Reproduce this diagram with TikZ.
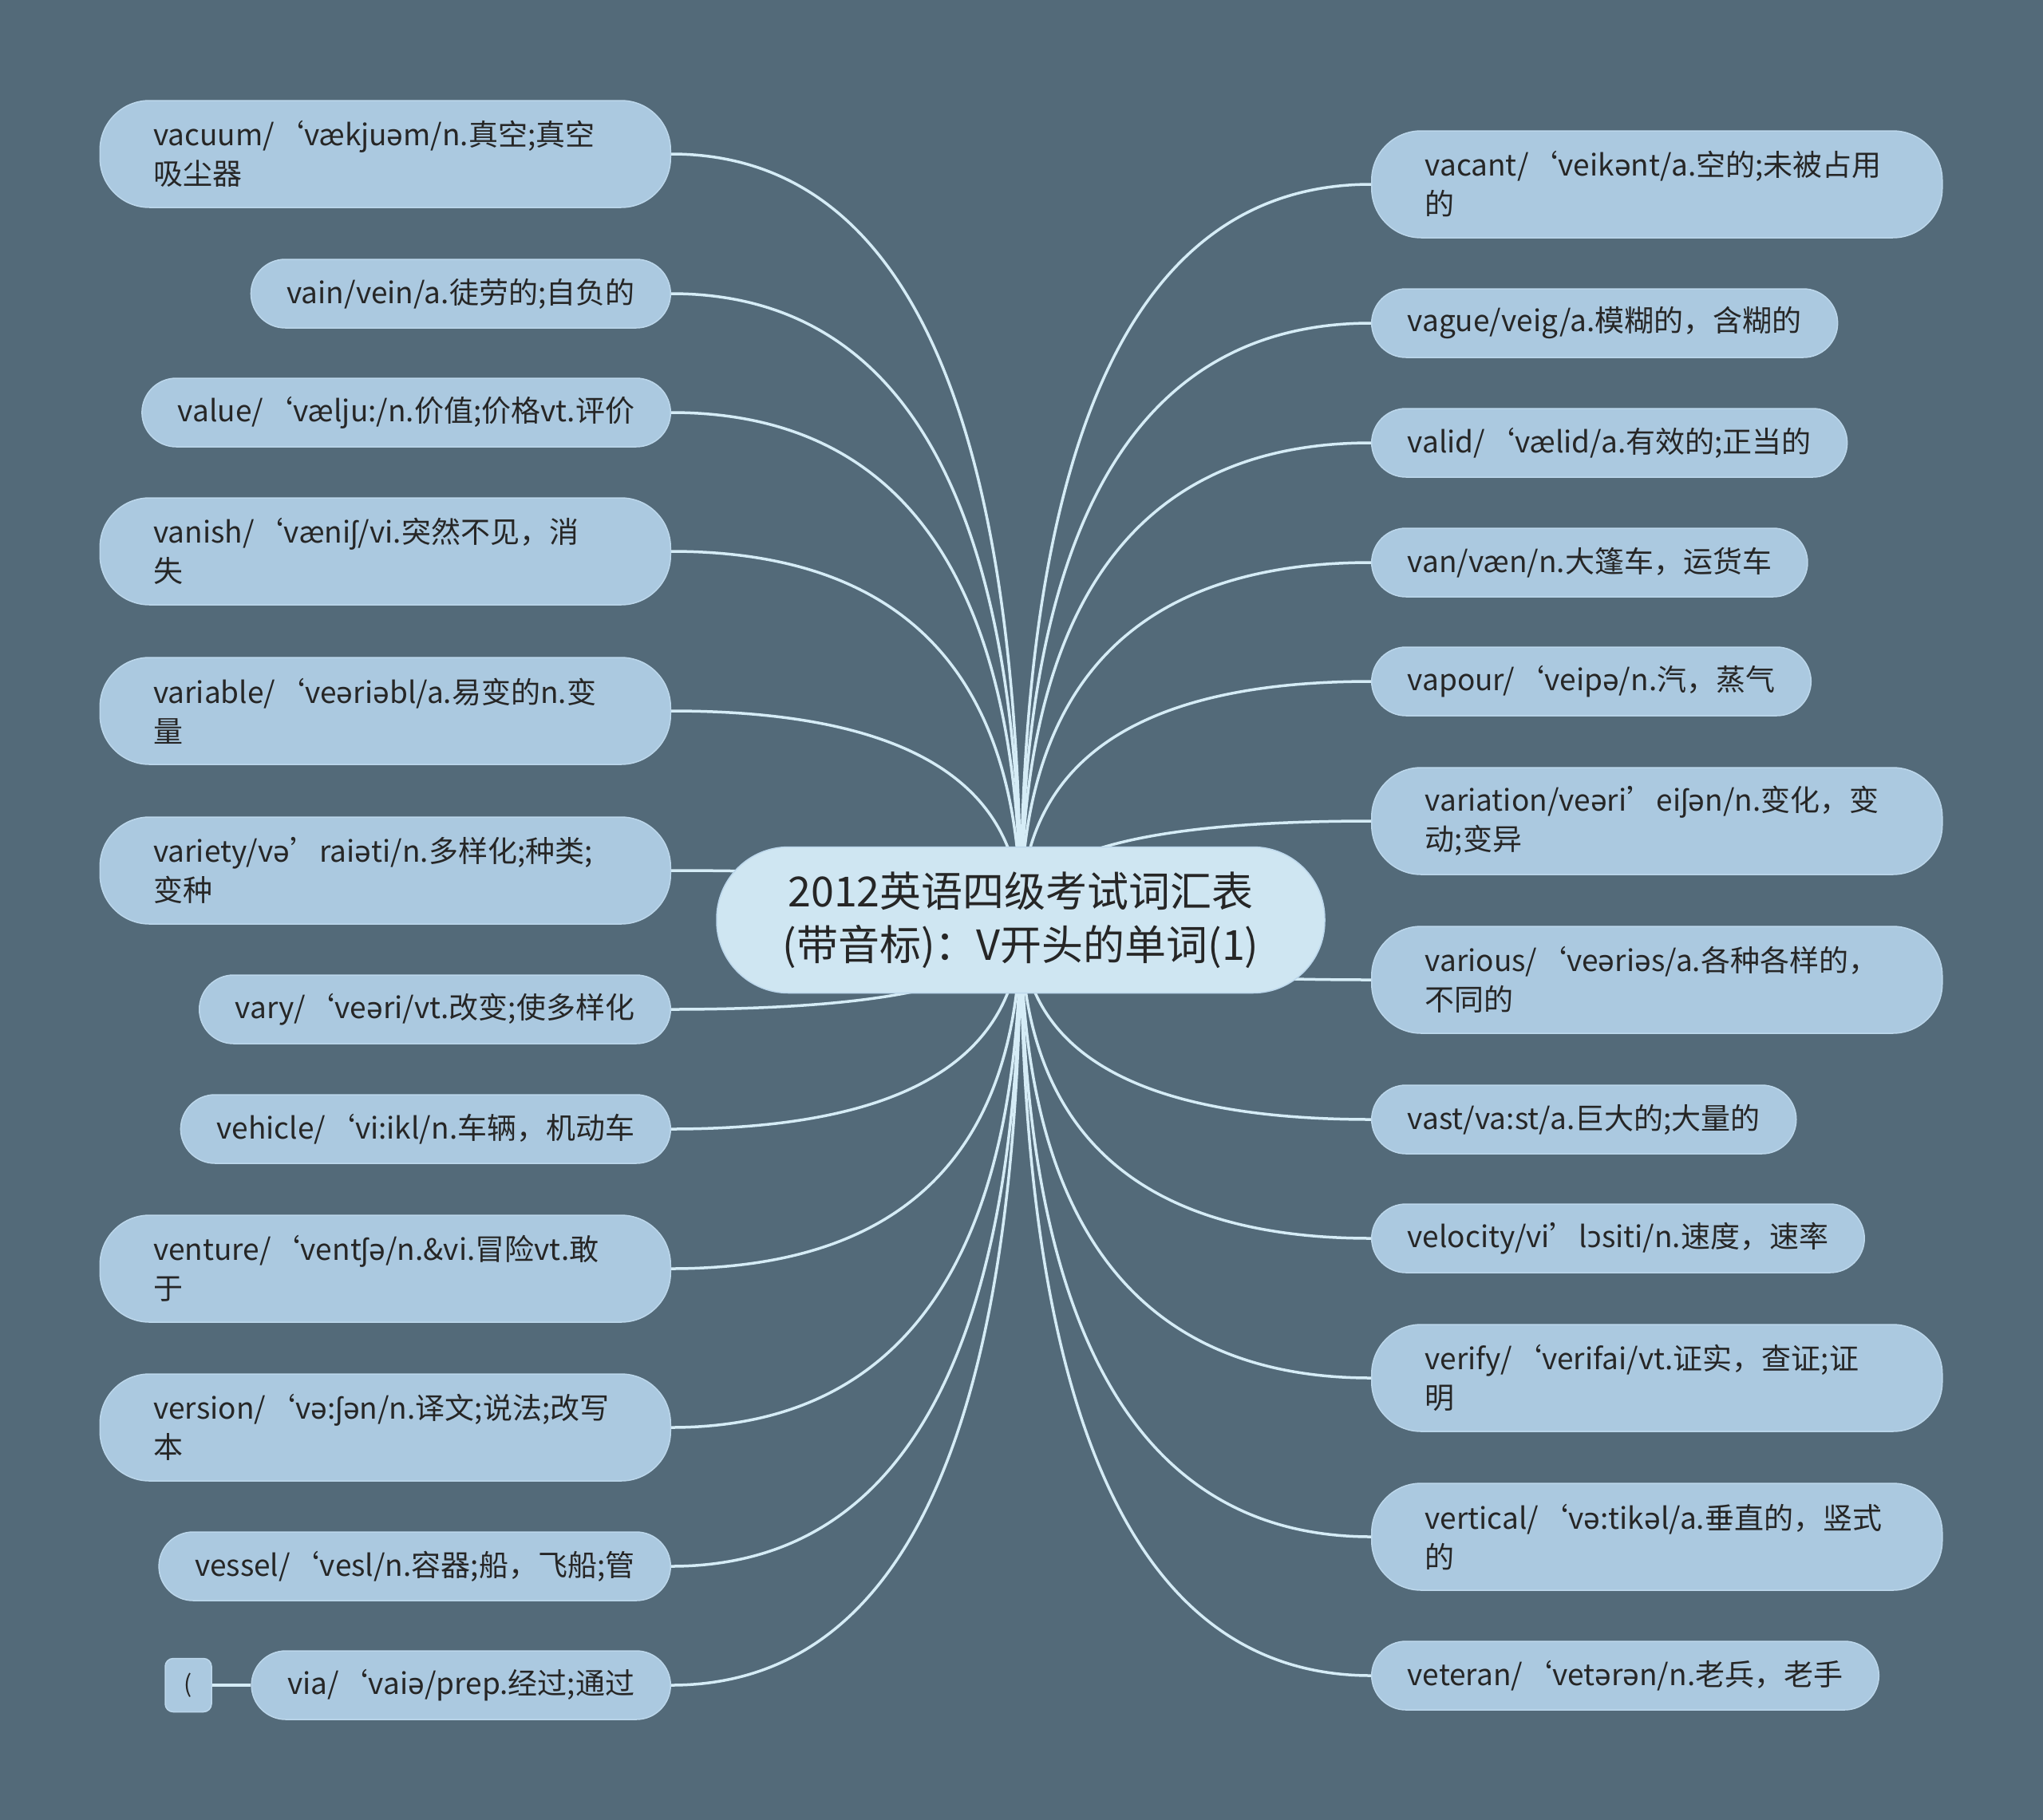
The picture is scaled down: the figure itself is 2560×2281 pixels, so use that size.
\documentclass[tikz,border=0pt]{standalone}
\usepackage{fontspec}
\setmainfont{Noto Sans CJK SC}
\newfontfamily\ipafont{Noto Sans}
\usetikzlibrary{calc,backgrounds}
\definecolor{bgc}{HTML}{536A79}
\definecolor{leafc}{HTML}{ABC9E0}
\definecolor{leafline}{HTML}{BCD7EB}
\definecolor{rootc}{HTML}{CFE6F2}
\definecolor{edgec}{HTML}{D5ECF6}
\definecolor{txtc}{HTML}{262626}
\newcommand\leaffont{\fontsize{37pt}{49pt}\selectfont}
\newcommand\rootfont{\fontsize{52pt}{67pt}\selectfont}
\newcommand\Sc{{\ipafont ə}}
\newcommand\Sh{{\ipafont ʃ}}
\newcommand\Oo{{\ipafont ɔ}}
\newcommand\vlink[2]{\draw[edge] (#1.center) .. controls ($(#1.center)!0.6667!(#1.center|-#2)$) and ($(#2)!0.6667!(#1.center|-#2)$) .. (#2);}
\tikzset{
  leafa/.style={fill=leafc, draw=leafline, line width=1.5pt, text=txtc, font=\leaffont,
    inner xsep=45pt, inner ysep=0pt, minimum height=86pt, rounded corners=43pt},
  leafb/.style={fill=leafc, draw=leafline, line width=1.5pt, text=txtc, font=\leaffont,
    text width=581pt, align=left, inner xsep=67pt, inner ysep=0pt, minimum height=134pt, rounded corners=62pt},
  rootbox/.style={fill=rootc, draw=leafline, line width=1.5pt, text=txtc, font=\rootfont,
    align=center, inner sep=0pt, minimum width=762pt, minimum height=183pt, rounded corners=90pt},
  parenbox/.style={fill=leafc, draw=leafline, line width=1.5pt, text=txtc, font=\fontsize{30pt}{36pt}\selectfont,
    inner sep=0pt, minimum width=58pt, minimum height=67pt, rounded corners=10pt},
  edge/.style={draw=edgec, line width=3.5pt}
}
\begin{document}
\begin{tikzpicture}[x=1pt,y=-1pt]
\useasboundingbox (0,0) rectangle (2560,2281);
% root
\node[rootbox] (root) at (1279,1153) {2012英语四级考试词汇表\\(带音标)：V开头的单词(1)};
% left
\node[leafb, anchor=east] (L1) at (841,193) {vacuum/‘vækju\Sc{}m/n.真空;真空\\吸尘器};
\node[leafa, anchor=east] (L2) at (841,368) {vain/vein/a.徒劳的;自负的};
\node[leafa, anchor=east] (L3) at (841,517) {value/‘vælju:/n.价值;价格vt.评价};
\node[leafb, anchor=east] (L4) at (841,691) {vanish/‘væni\Sh{}/vi.突然不见，消\\失};
\node[leafb, anchor=east] (L5) at (841,891) {variable/‘ve\Sc{}ri\Sc{}bl/a.易变的n.变\\量};
\node[leafb, anchor=east] (L6) at (841,1091) {variety/v\Sc{}’rai\Sc{}ti/n.多样化;种类;\\变种};
\node[leafa, anchor=east] (L7) at (841,1265) {vary/‘ve\Sc{}ri/vt.改变;使多样化};
\node[leafa, anchor=east] (L8) at (841,1415) {vehicle/‘vi:ikl/n.车辆，机动车};
\node[leafb, anchor=east] (L9) at (841,1590) {venture/‘vent\Sh\Sc{}/n.\&vi.冒险vt.敢\\于};
\node[leafb, anchor=east] (L10) at (841,1789) {version/‘v\Sc{}:\Sh\Sc{}n/n.译文;说法;改写\\本};
\node[leafa, anchor=east] (L11) at (841,1963) {vessel/‘vesl/n.容器;船，飞船;管};
\node[leafa, anchor=east] (L12) at (841,2112) {via/‘vai\Sc{}/prep.经过;通过};
\node[parenbox] (P) at (236,2112) {(};
% right
\node[leafb, anchor=west] (R1) at (1718,231) {vacant/‘veik\Sc{}nt/a.空的;未被占用\\的};
\node[leafa, anchor=west] (R2) at (1718,405) {vague/veig/a.模糊的，含糊的};
\node[leafa, anchor=west] (R3) at (1718,555) {valid/‘vælid/a.有效的;正当的};
\node[leafa, anchor=west] (R4) at (1718,705) {van/væn/n.大篷车，运货车};
\node[leafa, anchor=west] (R5) at (1718,854) {vapour/‘veip\Sc{}/n.汽，蒸气};
\node[leafb, anchor=west] (R6) at (1718,1029) {variation/ve\Sc{}ri’ei\Sh\Sc{}n/n.变化，变\\动;变异};
\node[leafb, anchor=west] (R7) at (1718,1228) {various/‘ve\Sc{}ri\Sc{}s/a.各种各样的，\\不同的};
\node[leafa, anchor=west] (R8) at (1718,1403) {vast/va:st/a.巨大的;大量的};
\node[leafa, anchor=west] (R9) at (1718,1552) {velocity/vi’l\Oo{}siti/n.速度，速率};
\node[leafb, anchor=west] (R10) at (1718,1727) {verify/‘verifai/vt.证实，查证;证\\明};
\node[leafb, anchor=west] (R11) at (1718,1926) {vertical/‘v\Sc{}:tik\Sc{}l/a.垂直的，竖式\\的};
\node[leafa, anchor=west] (R12) at (1718,2100) {veteran/‘vet\Sc{}r\Sc{}n/n.老兵，老手};
\begin{pgfonlayer}{background}
\fill[bgc] (0,0) rectangle (2560,2281);
\foreach \n in {L1,L2,L3,L4,L5,L6,L7,L8,L9,L10,L11,L12}{\vlink{root}{\n.east}}
\foreach \n in {R1,R2,R3,R4,R5,R6,R7,R8,R9,R10,R11,R12}{\vlink{root}{\n.west}}
\draw[edge] (P.east) -- (L12.west);
\end{pgfonlayer}
\end{tikzpicture}
\end{document}
